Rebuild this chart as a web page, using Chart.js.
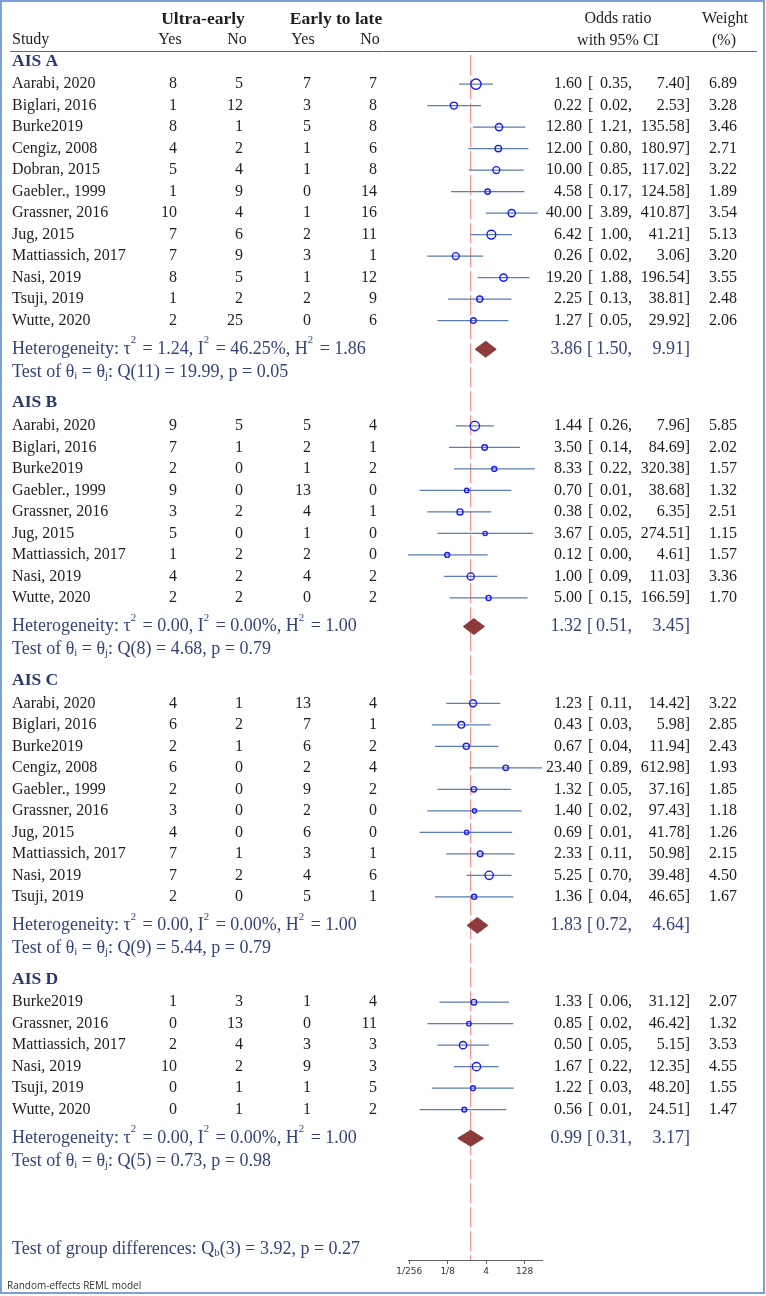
<!DOCTYPE html>
<html>
<head>
<meta charset="utf-8">
<script src="https://cdn.jsdelivr.net/npm/chart.js@4"></script>
<style>
  html, body { margin: 0; padding: 0; background: #fff; }
  #wrap { width: 766px; height: 1296px; }
</style>
</head>
<body>
<div id="wrap"><canvas id="forestCanvas" width="766" height="1296"></canvas></div>
<script>
// study data, one block per AIS grade
const groupNames = ['AIS A', 'AIS B', 'AIS C', 'AIS D'];

const studiesA = ['Aarabi, 2020', 'Biglari, 2016', 'Burke2019', 'Cengiz, 2008', 'Dobran, 2015', 'Gaebler., 1999',
    'Grassner, 2016', 'Jug, 2015', 'Mattiassich, 2017', 'Nasi, 2019', 'Tsuji, 2019', 'Wutte, 2020'];
const countsA = [[8, 5, 7, 7], [1, 12, 3, 8], [8, 1, 5, 8], [4, 2, 1, 6], [5, 4, 1, 8], [1, 9, 0, 14],
    [10, 4, 1, 16], [7, 6, 2, 11], [7, 9, 3, 1], [8, 5, 1, 12], [1, 2, 2, 9], [2, 25, 0, 6]];
const oddsA = [1.60, 0.22, 12.80, 12.00, 10.00, 4.58, 40.00, 6.42, 0.26, 19.20, 2.25, 1.27];
const lowA = [0.35, 0.02, 1.21, 0.80, 0.85, 0.17, 3.89, 1.00, 0.02, 1.88, 0.13, 0.05];
const highA = [7.40, 2.53, 135.58, 180.97, 117.02, 124.58, 410.87, 41.21, 3.06, 196.54, 38.81, 29.92];
const weightA = [6.89, 3.28, 3.46, 2.71, 3.22, 1.89, 3.54, 5.13, 3.20, 3.55, 2.48, 2.06];

const studiesB = ['Aarabi, 2020', 'Biglari, 2016', 'Burke2019', 'Gaebler., 1999', 'Grassner, 2016', 'Jug, 2015',
    'Mattiassich, 2017', 'Nasi, 2019', 'Wutte, 2020'];
const countsB = [[9, 5, 5, 4], [7, 1, 2, 1], [2, 0, 1, 2], [9, 0, 13, 0], [3, 2, 4, 1], [5, 0, 1, 0],
    [1, 2, 2, 0], [4, 2, 4, 2], [2, 2, 0, 2]];
const oddsB = [1.44, 3.50, 8.33, 0.70, 0.38, 3.67, 0.12, 1.00, 5.00];
const lowB = [0.26, 0.14, 0.22, 0.01, 0.02, 0.05, 0.00, 0.09, 0.15];
const highB = [7.96, 84.69, 320.38, 38.68, 6.35, 274.51, 4.61, 11.03, 166.59];
const weightB = [5.85, 2.02, 1.57, 1.32, 2.51, 1.15, 1.57, 3.36, 1.70];

const studiesC = ['Aarabi, 2020', 'Biglari, 2016', 'Burke2019', 'Cengiz, 2008', 'Gaebler., 1999', 'Grassner, 2016',
    'Jug, 2015', 'Mattiassich, 2017', 'Nasi, 2019', 'Tsuji, 2019'];
const countsC = [[4, 1, 13, 4], [6, 2, 7, 1], [2, 1, 6, 2], [6, 0, 2, 4], [2, 0, 9, 2], [3, 0, 2, 0],
    [4, 0, 6, 0], [7, 1, 3, 1], [7, 2, 4, 6], [2, 0, 5, 1]];
const oddsC = [1.23, 0.43, 0.67, 23.40, 1.32, 1.40, 0.69, 2.33, 5.25, 1.36];
const lowC = [0.11, 0.03, 0.04, 0.89, 0.05, 0.02, 0.01, 0.11, 0.70, 0.04];
const highC = [14.42, 5.98, 11.94, 612.98, 37.16, 97.43, 41.78, 50.98, 39.48, 46.65];
const weightC = [3.22, 2.85, 2.43, 1.93, 1.85, 1.18, 1.26, 2.15, 4.50, 1.67];

const studiesD = ['Burke2019', 'Grassner, 2016', 'Mattiassich, 2017', 'Nasi, 2019', 'Tsuji, 2019', 'Wutte, 2020'];
const countsD = [[1, 3, 1, 4], [0, 13, 0, 11], [2, 4, 3, 3], [10, 2, 9, 3], [0, 1, 1, 5], [0, 1, 1, 2]];
const oddsD = [1.33, 0.85, 0.50, 1.67, 1.22, 0.56];
const lowD = [0.06, 0.02, 0.05, 0.22, 0.03, 0.01];
const highD = [31.12, 46.42, 5.15, 12.35, 48.20, 24.51];
const weightD = [2.07, 1.32, 3.53, 4.55, 1.55, 1.47];

// pooled estimates and heterogeneity per group
const pooledOdds = [3.86, 1.32, 1.83, 0.99];
const pooledLow = [1.50, 0.51, 0.72, 0.31];
const pooledHigh = [9.91, 3.45, 4.64, 3.17];
const tau2 = [1.24, 0.00, 0.00, 0.00];
const iSquared = [46.25, 0.00, 0.00, 0.00];
const hSquared = [1.86, 1.00, 1.00, 1.00];
const qDf = [11, 8, 9, 5];
const qStat = [19.99, 4.68, 5.44, 0.73];
const qPval = [0.05, 0.79, 0.79, 0.98];
const qbDf = 3;
const qbStat = 3.92;
const qbPval = 0.27;

// x axis is log2(odds ratio)
const tickValues = [-8, -3, 2, 7];
const tickLabels = ['1/256', '1/8', '4', '128'];
const xMin = -8.15;
const xMax = 9.26;

const SERIF = '"Liberation Serif", serif';
const NAVY = '#34447a';

const groups = [
    { studies: studiesA, counts: countsA, odds: oddsA, low: lowA, high: highA, weight: weightA },
    { studies: studiesB, counts: countsB, odds: oddsB, low: lowB, high: highB, weight: weightB },
    { studies: studiesC, counts: countsC, odds: oddsC, low: lowC, high: highC, weight: weightC },
    { studies: studiesD, counts: countsD, odds: oddsD, low: lowD, high: highD, weight: weightD }
];

// row layout in row units (one study row = 1)
let rows = [];
let u = 0.47;
groups.forEach((g, gi) => {
    if (gi > 0) u += 1.45;
    rows.push({ type: 'head', gi: gi, u: u });
    u += 1.07;
    g.studies.forEach((s, si) => {
        if (si > 0) u += 1;
        rows.push({ type: 'study', gi: gi, si: si, u: u });
    });
    u += 1.33;
    rows.push({ type: 'het', gi: gi, u: u });
    u += 1.05;
    rows.push({ type: 'test', gi: gi, u: u });
});
u += 4.1;
rows.push({ type: 'qb', u: u });

function lg(v) {
    return Math.min(xMax, Math.max(xMin, Math.log2(v)));
}

let ciData = [];
let pointData = [];
let pointSizes = [];
let diamondSets = [];
rows.forEach(r => {
    if (r.type === 'study') {
        const g = groups[r.gi];
        ciData.push({ x: lg(g.low[r.si]), y: r.u }, { x: lg(g.high[r.si]), y: r.u }, { x: null, y: null });
        pointData.push({ x: lg(g.odds[r.si]), y: r.u });
        pointSizes.push(1.95 * Math.sqrt(g.weight[r.si]));
    }
    if (r.type === 'het') {
        const h = 0.37;
        diamondSets.push({
            data: [
                { x: lg(pooledLow[r.gi]), y: r.u },
                { x: lg(pooledOdds[r.gi]), y: r.u - h },
                { x: lg(pooledHigh[r.gi]), y: r.u },
                { x: lg(pooledOdds[r.gi]), y: r.u + h },
                { x: lg(pooledLow[r.gi]), y: r.u }
            ],
            showLine: true,
            fill: 'shape',
            backgroundColor: '#8c3a3a',
            borderColor: '#8c3a3a',
            borderWidth: 1,
            pointRadius: 0,
            tension: 0,
            order: 2
        });
    }
});

const yMax = (1260 - 51) / 21.5;

const datasets = [
    {
        data: [{ x: 0, y: 0.19 }, { x: 0, y: yMax }],
        showLine: true,
        borderColor: '#e97a78',
        borderWidth: 1,
        borderDash: [20, 4],
        pointRadius: 0,
        order: 4
    },
    {
        data: ciData,
        showLine: true,
        spanGaps: false,
        borderColor: '#5a7db5',
        borderWidth: 1.2,
        pointRadius: 0,
        order: 3
    },
    ...diamondSets,
    {
        data: pointData,
        showLine: false,
        pointStyle: 'circle',
        pointRadius: pointSizes,
        backgroundColor: 'rgba(0,0,0,0)',
        borderColor: '#1a1aff',
        borderWidth: 1.4,
        order: 1
    }
];

function fmt(v) {
    return v.toFixed(2);
}

function drawParts(c, parts, x, y, size, color) {
    c.fillStyle = color;
    c.textAlign = 'left';
    c.textBaseline = 'middle';
    parts.forEach(p => {
        let dy = 0;
        if (p.sup) {
            c.font = (size * 0.6) + 'px ' + SERIF;
            dy = -size * 0.48;
        } else if (p.sub) {
            c.font = (size * 0.6) + 'px ' + SERIF;
            dy = size * 0.22;
        } else {
            c.font = size + 'px ' + SERIF;
        }
        c.fillText(p.t, x, y + dy);
        x += c.measureText(p.t).width + (p.sup ? 2 : 0);
    });
}

const forestText = {
    id: 'forestText',
    afterDraw(chart) {
        const c = chart.ctx;
        const yPix = v => chart.scales.y.getPixelForValue(v);
        c.save();

        // outer frame
        c.strokeStyle = '#7a9fd9';
        c.lineWidth = 2;
        c.strokeRect(1, 1, 763, 1292);

        // header
        c.fillStyle = '#1e1e1e';
        c.textBaseline = 'middle';
        c.font = 'bold 17.5px ' + SERIF;
        c.textAlign = 'center';
        c.fillText('Ultra-early', 203, 19);
        c.fillText('Early to late', 336, 19);
        c.font = '16px ' + SERIF;
        c.textAlign = 'left';
        c.fillText('Study', 12, 40);
        c.textAlign = 'center';
        c.fillText('Yes', 170, 40);
        c.fillText('No', 237, 40);
        c.fillText('Yes', 303, 40);
        c.fillText('No', 370, 40);
        c.fillText('Odds ratio', 618, 19);
        c.fillText('with 95% CI', 618, 41);
        c.fillText('Weight', 725, 19);
        c.fillText('(%)', 724, 41);

        c.strokeStyle = '#666';
        c.lineWidth = 1;
        c.beginPath();
        c.moveTo(10, 51.5);
        c.lineTo(757, 51.5);
        c.stroke();

        const countRight = [177, 243, 311, 377];

        rows.forEach(r => {
            const y = yPix(r.u);
            if (r.type === 'head') {
                c.fillStyle = '#2a3870';
                c.font = 'bold 17.5px ' + SERIF;
                c.textAlign = 'left';
                c.fillText(groupNames[r.gi], 12, y);
            } else if (r.type === 'study') {
                const g = groups[r.gi];
                c.fillStyle = '#1e1e1e';
                c.font = '16px ' + SERIF;
                c.textAlign = 'left';
                c.fillText(g.studies[r.si], 12, y);
                c.textAlign = 'right';
                g.counts[r.si].forEach((n, k) => c.fillText(String(n), countRight[k], y));
                c.fillText(fmt(g.odds[r.si]), 582, y);
                c.fillText(fmt(g.low[r.si]) + ',', 632, y);
                c.fillText(fmt(g.high[r.si]) + ']', 690, y);
                c.fillText(fmt(g.weight[r.si]), 737, y);
                c.textAlign = 'left';
                c.fillText('[', 588, y);
            } else if (r.type === 'het') {
                const gi = r.gi;
                drawParts(c, [
                    { t: 'Heterogeneity: \u03C4' }, { t: '2', sup: true },
                    { t: ' = ' + fmt(tau2[gi]) + ', I' }, { t: '2', sup: true },
                    { t: ' = ' + fmt(iSquared[gi]) + '%, H' }, { t: '2', sup: true },
                    { t: ' = ' + fmt(hSquared[gi]) }
                ], 12, y, 18, NAVY);
                c.fillStyle = NAVY;
                c.font = '18px ' + SERIF;
                c.textAlign = 'right';
                c.fillText(fmt(pooledOdds[gi]), 582, y);
                c.fillText(fmt(pooledLow[gi]) + ',', 632, y);
                c.fillText(fmt(pooledHigh[gi]) + ']', 690, y);
                c.textAlign = 'left';
                c.fillText('[', 587, y);
            } else if (r.type === 'test') {
                const gi = r.gi;
                drawParts(c, [
                    { t: 'Test of \u03B8' }, { t: 'i', sub: true },
                    { t: ' = \u03B8' }, { t: 'j', sub: true },
                    { t: ': Q(' + qDf[gi] + ') = ' + fmt(qStat[gi]) + ', p = ' + fmt(qPval[gi]) }
                ], 12, y, 18, NAVY);
            } else if (r.type === 'qb') {
                drawParts(c, [
                    { t: 'Test of group differences: Q' }, { t: 'b', sub: true },
                    { t: '(' + qbDf + ') = ' + fmt(qbStat) + ', p = ' + fmt(qbPval) }
                ], 12, y, 18, NAVY);
            }
        });

        c.fillStyle = '#333';
        c.font = '10px "Open Sans", sans-serif';
        c.textAlign = 'left';
        c.fillText('Random-effects REML model', 7, 1286);

        c.restore();
    }
};

const forestCanvas = document.getElementById('forestCanvas').getContext('2d');

new Chart(forestCanvas, {
    type: 'scatter',
    data: { datasets: datasets },
    options: {
        responsive: false,
        animation: false,
        devicePixelRatio: 1,
        layout: { padding: { left: 408, right: 224, top: 51, bottom: 16 } },
        plugins: {
            legend: { display: false },
            tooltip: { enabled: false }
        },
        scales: {
            x: {
                type: 'linear',
                min: xMin,
                max: xMax,
                afterFit: scale => { scale.height = 20; },
                afterBuildTicks: scale => { scale.ticks = tickValues.map(v => ({ value: v })); },
                grid: { display: true, drawOnChartArea: false, drawTicks: true, tickLength: 4, color: '#666' },
                border: { display: true, color: '#666' },
                ticks: {
                    callback: v => tickLabels[tickValues.indexOf(v)],
                    font: { family: '"DejaVu Sans", sans-serif', size: 9 },
                    color: '#333',
                    padding: 2,
                    maxRotation: 0,
                    autoSkip: false
                }
            },
            y: {
                type: 'linear',
                display: false,
                reverse: true,
                min: 0,
                max: yMax
            }
        }
    },
    plugins: [forestText]
});
</script>
</body>
</html>
